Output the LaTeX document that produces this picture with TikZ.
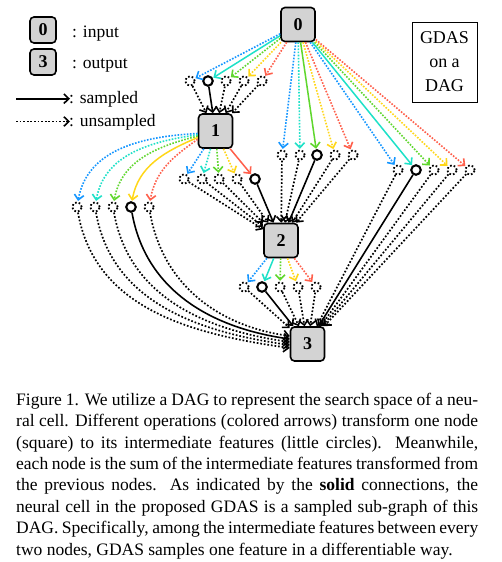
\documentclass[tikz,border=0pt]{standalone}
\usepackage{fontspec}
\setmainfont{Liberation Serif}
\usetikzlibrary{arrows.meta,calc}
\definecolor{o1}{RGB}{20,150,255}
\definecolor{o2}{RGB}{30,225,200}
\definecolor{o3}{RGB}{95,215,45}
\definecolor{o4}{RGB}{255,215,25}
\definecolor{o5}{RGB}{255,95,75}
\definecolor{boxgray}{RGB}{211,211,211}
\newcommand{\capfont}{\fontsize{17.5}{21.4}\selectfont}
\tikzset{
 tip/.style={-{Straight Barb[length=5pt,width=9.5pt,line width=1.6pt]}},
 box/.style={draw, line width=1.6pt, rounded corners=4pt, fill=boxgray, minimum width=34pt, minimum height=34pt, inner sep=0pt, font=\fontsize{18}{18}\selectfont\bfseries},
 feat/.style={circle, draw, line width=1.8pt, dash pattern=on 1.7pt off 2.1pt, minimum size=9.5pt, inner sep=0pt},
 sfeat/.style={circle, draw, line width=2.1pt, minimum size=9.5pt, inner sep=0pt},
 op/.style={line width=1.6pt, dash pattern=on 1.6pt off 1.5pt, tip, shorten >=0.5pt},
 sop/.style={line width=1.5pt, tip, shorten >=0.5pt},
 un/.style={line width=1.7pt, dash pattern=on 1.7pt off 1.9pt, tip},
 sa/.style={line width=1.6pt, tip},
 legtext/.style={anchor=base west, inner sep=0pt, font=\fontsize{17.5}{17.5}\selectfont},
 capline/.style={anchor=base west, inner sep=0pt, font=\capfont},
}
\begin{document}
\begin{tikzpicture}[x=1pt,y=1pt]
\useasboundingbox (0,0) rectangle (501,-562);
\fill[white] (0,0) rectangle (501,-562);

% main nodes
\node[box] (n0) at (298,-24.5) {0};
\node[box] (n1) at (215.5,-131) {1};
\node[box] (n2) at (281,-240.5) {2};
\node[box] (n3) at (307.5,-344) {3};

% feature groups
\foreach \x/\s [count=\i] in {190/feat,208/sfeat,226/feat,244/feat,262/feat}
  \node[\s] (a\i) at (\x,-81) {};
\foreach \x/\s [count=\i] in {282/feat,300/feat,317/sfeat,335/feat,353/feat}
  \node[\s] (b\i) at (\x,-155) {};
\foreach \x/\s [count=\i] in {398/feat,416/sfeat,434/feat,452/feat,470/feat}
  \node[\s] (c\i) at (\x,-170) {};
\foreach \x/\s [count=\i] in {184/feat,202/feat,219/feat,237/feat,255/sfeat}
  \node[\s] (d\i) at (\x,-179) {};
\foreach \x/\s [count=\i] in {77/feat,95/feat,113/feat,131/sfeat,149/feat}
  \node[\s] (e\i) at (\x,-207) {};
\foreach \x/\s [count=\i] in {244/feat,262/sfeat,280/feat,298/feat,316/feat}
  \node[\s] (f\i) at (\x,-287) {};

% node 0 -> features
\foreach \i/\s in {1/op,2/sop,3/op,4/op,5/op}
  \draw[\s, draw=o\i] (n0) -- (a\i);
\foreach \i/\s in {1/op,2/op,3/sop,4/op,5/op}
  \draw[\s, draw=o\i] (n0) -- (b\i);
\foreach \i/\s in {1/op,2/sop,3/op,4/op,5/op}
  \draw[\s, draw=o\i] (n0) -- (c\i);
% node 1 -> features
\foreach \i/\s in {1/op,2/op,3/op,4/op,5/sop}
  \draw[\s, draw=o\i] (n1) -- (d\i);
\foreach \i/\s/\a/\o in {1/op/188/183,2/op/192/188,3/op/196/194,4/sop/200/203,5/op/205/215}
  \draw[\s, draw=o\i] (n1.\a) to[out=\o,in=80] (e\i);
% node 2 -> features
\foreach \i/\s in {1/op,2/sop,3/op,4/op,5/op}
  \draw[\s, draw=o\i] (n2) -- (f\i);

% features -> nodes
\foreach \i/\s in {1/un,2/sa,3/un,4/un,5/un}
  \draw[\s] (a\i) -- (n1);
\foreach \i/\s in {1/un,2/un,3/sa,4/un,5/un}
  \draw[\s] (b\i) -- (n2);
\foreach \i/\s in {1/un,2/un,3/un,4/un,5/sa}
  \draw[\s] (d\i) -- (n2);
\foreach \i/\s in {1/un,2/sa,3/un,4/un,5/un}
  \draw[\s] (c\i) -- (n3);
\foreach \i/\s in {1/un,2/sa,3/un,4/un,5/un}
  \draw[\s] (f\i) -- (n3);
\foreach \i/\s/\dy in {1/un/-4,2/un/-1,3/un/2,4/sa/5,5/un/8}
  \draw[\s] (e\i) to[out=-80,in=172] ($(n3.west)+(0,\dy)$);

% legend
\node[box, minimum width=26pt, minimum height=26pt] (l0) at (43,-30) {0};
\node[box, minimum width=26pt, minimum height=26pt] (l3) at (43,-62) {3};
\node[legtext] (l0t) at (72,-37.3) {: input};
\node[legtext] (l3t) at (72,-68.3) {: output};
\coordinate (s1) at (16,-98.7);
\coordinate (s2) at (70,-98.7);
\draw[sa] (s1) -- (s2);
\node[legtext] (st) at (69,-103.3) {: sampled};
\coordinate (u1) at (16,-121.5);
\coordinate (u2) at (70,-121.5);
\draw[un] (u1) -- (u2);
\node[legtext] (ut) at (69,-126) {: unsampled};

% title box
\node[draw, line width=1pt, minimum width=65pt, minimum height=80pt, inner sep=0pt, align=center, font=\fontsize{18}{24}\selectfont] (gd) at (444.5,-62) {GDAS\\on a\\DAG};

% caption
\node[capline] (cap1) at (16,-405) {\hbox to 462pt{Figure 1. We utilize a DAG to represent the search space of a neu-}};
\node[capline] (cap2) at (16,-426.5) {\hbox to 462pt{ral cell. Different operations (colored arrows) transform one node}};
\node[capline] (cap3) at (16,-448) {\hbox to 462pt{(square) to its intermediate features (little circles). Meanwhile,}};
\node[capline] (cap4) at (16,-469.4) {\hbox to 462pt{each node is the sum of the intermediate features transformed from}};
\node[capline] (cap5) at (16,-490.8) {\hbox to 462pt{the previous nodes. As indicated by the \textbf{solid} connections, the}};
\node[capline] (cap6) at (16,-512.3) {\hbox to 462pt{neural cell in the proposed GDAS is a sampled sub-graph of this}};
\node[capline] (cap7) at (16,-533.7) {\hbox to 462pt{DAG. Specifically, among the intermediate features between every}};
\node[capline] (cap8) at (16,-555.2) {two nodes, GDAS samples one feature in a differentiable way.};
\end{tikzpicture}
\end{document}
